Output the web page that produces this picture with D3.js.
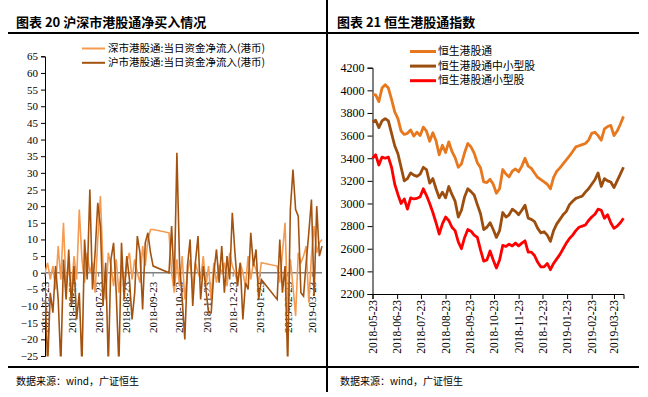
<!DOCTYPE html>
<html>
<head>
<meta charset="utf-8">
<script src="https://cdn.jsdelivr.net/npm/d3@7"></script>
<style>
body{margin:0;background:#fff;}
svg text{font-family:"Liberation Serif","Times New Roman",serif;fill:#000;}
svg text.cn{font-family:"Noto Sans CJK SC","Noto Sans",sans-serif;}
</style>
</head>
<body>
<div id="chart"></div>
<script>
// left panel, one value every 3 days from 2018-05-23, null = connect closed
var flowStart = "2018-05-23";
var szFlow = [0,3,-2,2,-5,8,-2,15,-4,2,-6,5,-2,19,4,-3,6,0,3,-6,10,23,2,-8,6,2,-4,4,-6,2,-3,3,6,-2,4,0,-3,8,2,10,13,13,
  null,null,null,null,null,
  12,0,-6,4,-4,5,-8,0,4,-5,3,0,-2,5,-4,2,-8,3,-3,2,0,3,-4,6,2,0,-3,3,0,-4,5,-2,3,1,-3,3,
  null,null,null,null,null,
  2,-3,6,15,-12,4,-4,-13,6,3,5,8,-9,5,14,6,9,10];
var shFlow = [-4,-28,-6,-12,2,-8,-28,4,-8,7,-10,2,-14,-6,-28,10,-2,25,-5,6,21,14,-10,3,-28,4,9,-6,-28,9,-8,5,-2,-14,-6,11,6,-11,9,12,6,2,
  null,null,null,null,null,
  0,14,-4,36,3,-8,-20,2,10,-10,3,11,-8,2,-5,-12,-12,0,7,-3,8,-6,5,-2,18,6,-4,3,-14,-3,-5,12,2,7,-8,-2,
  null,null,null,null,null,
  -8,10,-6,2,-28,19,31,19,17,-6,-7,3,12,22,-7,20,5,8];
var flowTicks = ["2018-05-23","2018-06-23","2018-07-23","2018-08-23","2018-09-23","2018-10-23",
  "2018-11-23","2018-12-23","2019-01-23","2019-02-23","2019-03-23"];

// right panel, one value every 4 days from 2018-05-23
var idxStart = "2018-05-23";
var hsConnect = [3965,3960,3900,4020,4050,4020,3920,3810,3750,3640,3610,3620,3650,3595,3630,3600,3675,3640,3550,3625,
  3555,3430,3515,3450,3545,3460,3405,3320,3350,3450,3530,3500,3445,3360,3315,3190,3185,3215,3170,3090,
  3130,3300,3260,3235,3285,3305,3280,3330,3400,3330,3310,3270,3230,3210,3190,3170,3130,3230,3285,3315,
  3350,3385,3420,3460,3500,3510,3520,3530,3560,3620,3630,3600,3560,3660,3680,3690,3600,3640,3700,3770];
var hsMidSmall = [3720,3735,3670,3730,3750,3730,3620,3510,3440,3320,3200,3220,3270,3250,3240,3260,3320,3300,3180,3220,
  3130,3050,3100,3050,3150,3080,3020,2880,2940,3060,3130,3105,3075,2990,2910,2770,2790,2830,2770,2700,
  2760,2920,2880,2900,2950,2930,2900,2940,2985,2870,2860,2840,2780,2740,2750,2720,2665,2760,2820,2860,
  2900,2930,2990,3020,3045,3055,3065,3100,3130,3170,3210,3270,3150,3220,3200,3190,3140,3200,3260,3320];
var hsSmall = [3400,3430,3340,3410,3400,3410,3320,3170,3080,3000,3040,2950,3050,3040,3045,3060,3130,3070,3000,2920,
  2830,2730,2820,2880,2850,2790,2760,2660,2600,2700,2770,2755,2720,2700,2590,2490,2500,2580,2500,2430,
  2500,2630,2620,2640,2625,2650,2625,2650,2670,2570,2570,2540,2480,2440,2440,2470,2415,2470,2510,2550,
  2600,2650,2690,2720,2760,2790,2800,2810,2850,2880,2905,2950,2940,2870,2900,2830,2780,2800,2830,2870];
var idxTicks = flowTicks;

var parse = d3.timeParse("%Y-%m-%d");

function toPoints(vals, start, step) {
  var t0 = parse(start);
  return vals.map(function (v, i) { return {date: d3.timeDay.offset(t0, i * step), v: v}; })
    .filter(function (d) { return d.v !== null; });
}

var svg = d3.select("#chart").append("svg").attr("width", 648).attr("height", 397);

// frame
svg.append("line").attr("x1", 8).attr("x2", 639).attr("y1", 33).attr("y2", 33).attr("stroke", "#000").attr("stroke-width", 2);
svg.append("line").attr("x1", 8).attr("x2", 639).attr("y1", 367).attr("y2", 367).attr("stroke", "#000").attr("stroke-width", 2);
svg.append("line").attr("x1", 327).attr("x2", 327).attr("y1", 0).attr("y2", 392).attr("stroke", "#000").attr("stroke-width", 2);

svg.append("text").attr("class", "cn").attr("x", 16).attr("y", 27).attr("font-size", 13).attr("font-weight", "bold")
  .text("图表 20 沪深市港股通净买入情况");
svg.append("text").attr("class", "cn").attr("x", 337).attr("y", 27).attr("font-size", 13).attr("font-weight", "bold")
  .text("图表 21 恒生港股通指数");
svg.append("text").attr("class", "cn").attr("x", 16).attr("y", 385).attr("font-size", 10).text("数据来源：wind，广证恒生");
svg.append("text").attr("class", "cn").attr("x", 340).attr("y", 385).attr("font-size", 10).text("数据来源：wind，广证恒生");

// ---------- left chart ----------
var xL = d3.scaleTime().domain([parse("2018-05-23"), parse("2019-04-03")]).range([45, 322]);
var yL = d3.scaleLinear().domain([-25, 65]).range([356, 56.3]);

var gL = svg.append("g");
var axL = gL.append("g").attr("transform", "translate(45,0)")
  .call(d3.axisLeft(yL).tickValues(d3.range(-25, 66, 5)).tickSize(4).tickPadding(3));
axL.selectAll("text").attr("font-size", 11).attr("font-family", "Liberation Serif");
axL.select(".domain").attr("stroke", "#000");

gL.append("line").attr("x1", 45).attr("x2", 322).attr("y1", yL(0)).attr("y2", yL(0))
  .attr("stroke", "#7f7f7f").attr("stroke-width", 1.5);
gL.selectAll(".xt").data(flowTicks).enter().append("line")
  .attr("x1", function (d) { return xL(parse(d)); }).attr("x2", function (d) { return xL(parse(d)); })
  .attr("y1", yL(0)).attr("y2", yL(0) + 4).attr("stroke", "#7f7f7f");
gL.selectAll(".xl").data(flowTicks).enter().append("text")
  .attr("transform", function (d) { return "translate(" + xL(parse(d)) + "," + (yL(0) + 9) + ") rotate(-90)"; })
  .attr("text-anchor", "end").attr("dy", "0.35em").attr("font-size", 11).text(function (d) { return d; });

svg.append("clipPath").attr("id", "clipL").append("rect").attr("x", 45).attr("y", 56).attr("width", 278).attr("height", 300.5);
var lineL = d3.line().x(function (d) { return xL(d.date); }).y(function (d) { return yL(d.v); });
gL.append("path").datum(toPoints(szFlow, flowStart, 3)).attr("clip-path", "url(#clipL)")
  .attr("d", lineL).attr("fill", "none").attr("stroke", "#F59A4E").attr("stroke-width", 1.6);
gL.append("path").datum(toPoints(shFlow, flowStart, 3)).attr("clip-path", "url(#clipL)")
  .attr("d", lineL).attr("fill", "none").attr("stroke", "#A3530F").attr("stroke-width", 1.6);

var legL = [["深市港股通:当日资金净流入(港币)", "#F59A4E"], ["沪市港股通:当日资金净流入(港币)", "#A3530F"]];
legL.forEach(function (l, i) {
  var y = 48.5 + i * 14.3;
  gL.append("line").attr("x1", 82).attr("x2", 105).attr("y1", y).attr("y2", y).attr("stroke", l[1]).attr("stroke-width", 2);
  gL.append("text").attr("class", "cn").attr("x", 108).attr("y", y).attr("dy", "0.35em").attr("font-size", 10.5).text(l[0]);
});

// ---------- right chart ----------
var xR = d3.scaleTime().domain([parse("2018-05-23"), parse("2019-04-04")]).range([372.5, 623.5]);
var yR = d3.scaleLinear().domain([2200, 4200]).range([294, 67.7]);

var gR = svg.append("g");
var axR = gR.append("g").attr("transform", "translate(372.5,0)")
  .call(d3.axisLeft(yR).tickValues(d3.range(2200, 4201, 200)).tickSize(5).tickPadding(3).tickFormat(d3.format("d")));
axR.selectAll("text").attr("font-size", 12).attr("font-family", "Liberation Serif");
axR.select(".domain").attr("stroke", "#000");

var axRb = gR.append("g").attr("transform", "translate(0,294)")
  .call(d3.axisBottom(xR).tickValues(idxTicks.map(parse)).tickSize(5).tickFormat(""));
axRb.select(".domain").attr("stroke", "#000");
gR.selectAll(".xl").data(idxTicks).enter().append("text")
  .attr("transform", function (d) { return "translate(" + xR(parse(d)) + ",300) rotate(-90)"; })
  .attr("text-anchor", "end").attr("dy", "0.35em").attr("font-size", 11.5).text(function (d) { return d; });

var lineR = d3.line().x(function (d) { return xR(d.date); }).y(function (d) { return yR(d.v); });
var seriesR = [[hsConnect, "#E8781E", "恒生港股通"], [hsMidSmall, "#9C4E0F", "恒生港股通中小型股"], [hsSmall, "#FF0000", "恒生港股通小型股"]];
seriesR.forEach(function (s, i) {
  gR.append("path").datum(toPoints(s[0], idxStart, 4)).attr("d", lineR)
    .attr("fill", "none").attr("stroke", s[1]).attr("stroke-width", 2.8).attr("stroke-linejoin", "round");
  var y = 51.5 + i * 14.6;
  gR.append("line").attr("x1", 410).attr("x2", 436).attr("y1", y).attr("y2", y).attr("stroke", s[1]).attr("stroke-width", 3);
  gR.append("text").attr("class", "cn").attr("x", 438).attr("y", y).attr("dy", "0.35em").attr("font-size", 10.8).text(s[2]);
});
</script>
</body>
</html>
